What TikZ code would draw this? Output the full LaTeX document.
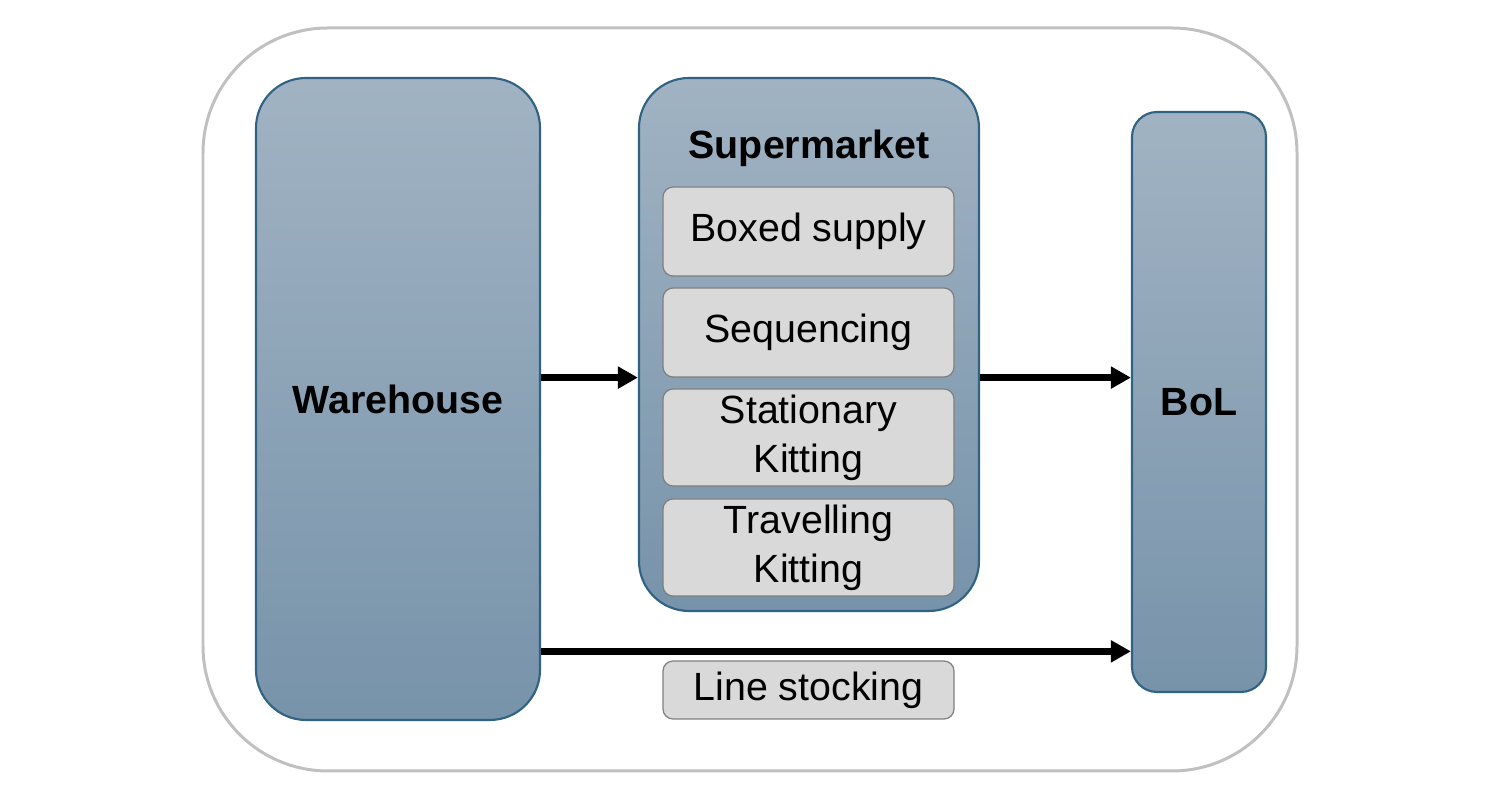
\documentclass[tikz,border=0pt]{standalone}
\usepackage{fontspec}
\setmainfont{Liberation Sans}
\usepackage{tikz}
\usetikzlibrary{calc,arrows.meta}
\definecolor{areatop}{HTML}{A1B3C3}
\definecolor{areabottom}{HTML}{7793AA}
\definecolor{areaborder}{HTML}{2F6283}
\definecolor{itemfill}{HTML}{D9D9D9}
\definecolor{itemborder}{HTML}{7F7F7F}
\definecolor{frameborder}{HTML}{C0C0C0}
\tikzstyle{frame} = [rectangle, draw=frameborder, line width=0.85pt, rounded corners=1.25cm]
\tikzstyle{area} = [rectangle, draw=areaborder, line width=0.6pt, top color=areatop, bottom color=areabottom, rounded corners=0.5cm, font=\fontsize{11.2}{13.6}\selectfont\bfseries]
\tikzstyle{item} = [rectangle, draw=itemborder, line width=0.35pt, fill=itemfill, rounded corners=0.1cm, text centered, align=center, minimum width=2.91cm, inner ysep=0.5pt, font=\fontsize{11.2}{14}\selectfont]
\tikzstyle{connector} = [line width=1.9pt, -{Triangle[length=0.2cm, width=0.21cm]}]

\begin{document}
\begin{tikzpicture}
            \useasboundingbox (0,0) rectangle (15,8);
            \node (frame) [frame, minimum width=10.94cm, minimum height=7.43cm] at (7.5,4.005) {};
            \node (wh) [area, minimum width=2.84cm, minimum height=6.42cm] at (3.98,4.01) {Warehouse};
            \node (sm) [area, minimum width=3.40cm, minimum height=5.33cm] at (8.09,4.555) {};
            \node (smlabel) [font=\fontsize{11.2}{13.6}\selectfont\bfseries] at (8.09,6.52) {Supermarket};
            \node (bol) [area, minimum width=1.34cm, minimum height=5.80cm, rounded corners=0.25cm] at (11.99,3.98) {BoL};
            \node (boxed) [item, minimum height=0.89cm] at (8.085,5.685) {Boxed supply};
            \node (seq) [item, minimum height=0.89cm] at (8.085,4.675) {Sequencing};
            \node (stat) [item, minimum height=0.97cm] at (8.085,3.625) {Stationary\\Kitting};
            \node (trav) [item, minimum height=0.97cm] at (8.085,2.525) {Travelling\\Kitting};
            \node (ls) [item, minimum height=0.58cm] at (8.085,1.10) {Line stocking};
            \coordinate (lane) at ($(ls.north)+(0,0.09)$);
            \draw [connector] (wh.east |- seq.south) -- (sm.west |- seq.south);
            \draw [connector] (sm.east |- seq.south) -- (bol.west |- seq.south);
            \draw [connector] (wh.east |- lane) -- (bol.west |- lane);
        \end{tikzpicture}
\end{document}
